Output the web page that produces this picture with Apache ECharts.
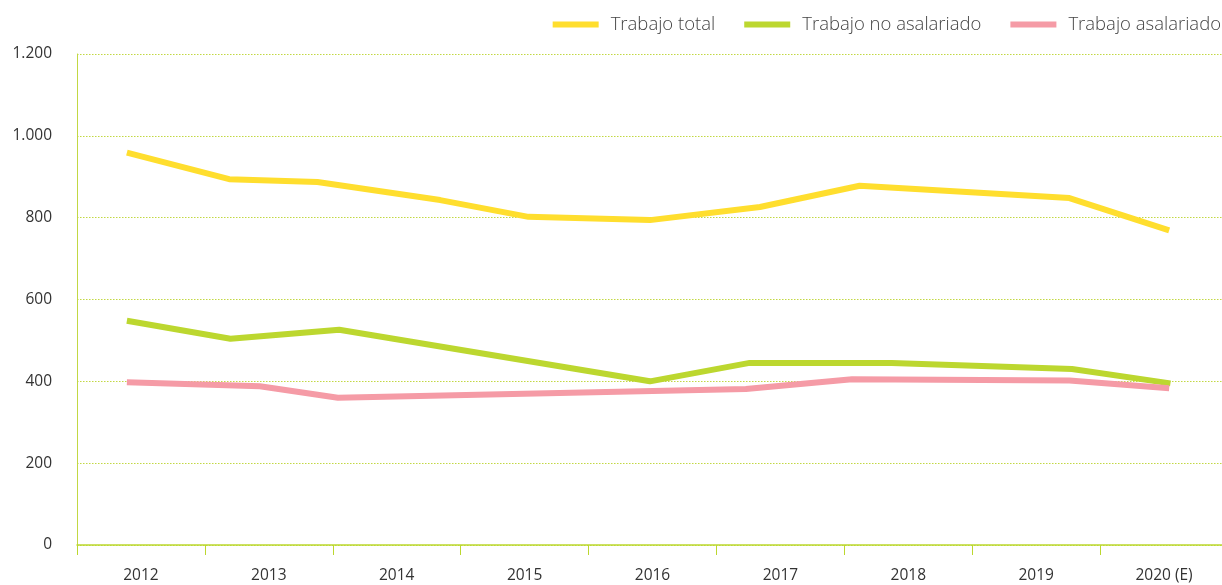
<!DOCTYPE html>
<html>
<head>
<meta charset="utf-8">
<script src="https://cdn.jsdelivr.net/npm/echarts@6/dist/echarts.min.js"></script>
<style>
  html, body { margin: 0; padding: 0; background: #fff; }
  #chart { width: 1222px; height: 585px; }
</style>
</head>
<body>
<div id="chart"></div>
<script>
// categories shown on the x axis
var years = ['2012', '2013', '2014', '2015', '2016', '2017', '2018', '2019', '2020 (E)'];

// vertices of each line, x as fractional year (as drawn in the source)
var totalX = [2011.89, 2012.69, 2013.38, 2014.34, 2015.03, 2015.98, 2016.84, 2017.62, 2019.26, 2020.04];
var totalY = [959, 894, 887, 843, 802, 794, 826, 878, 848, 769];

var noAsalX = [2011.89, 2012.70, 2013.55, 2015.98, 2016.76, 2017.87, 2019.28, 2020.05];
var noAsalY = [548, 504, 526, 400, 445, 445, 430, 395];

var asalX = [2011.89, 2012.93, 2013.54, 2016.73, 2017.56, 2019.26, 2020.04];
var asalY = [398, 388, 360, 381, 405, 402, 383];

var names = ['Trabajo total', 'Trabajo no asalariado', 'Trabajo asalariado'];
var colors = ['#ffde2e', '#bcd72f', '#f59ba6'];

function pairs(xs, ys) {
    return xs.map(function (x, i) { return [x, ys[i]]; });
}

var chart = echarts.init(document.getElementById('chart'));
var font = "'Open Sans', 'Noto Sans', sans-serif";
var lime = '#c2d843';

chart.setOption({
    animation: false,
    color: colors,
    textStyle: { fontFamily: font },
    legend: {
        right: -4,
        top: 10,
        icon: 'rect',
        itemWidth: 46,
        itemHeight: 6,
        itemGap: 29,
        textStyle: { fontSize: 18.5, color: '#444', fontWeight: 300, fontFamily: font, padding: [0, 0, 0, 7] },
        data: names
    },
    grid: { left: 77, right: -6, top: 54, bottom: 40, outerBoundsMode: 'none', containLabel: false },
    xAxis: [
        {
            type: 'category',
            data: years,
            boundaryGap: true,
            axisLine: { lineStyle: { color: '#bcd72f', width: 1.5 } },
            axisTick: { show: true, length: 10, lineStyle: { color: '#bcd72f' } },
            axisLabel: { color: '#333', fontSize: 15.5, margin: 23, fontFamily: font },
            splitLine: { show: false }
        },
        {
            type: 'value',
            min: 2011.5,
            max: 2020.5,
            show: false
        }
    ],
    yAxis: {
        type: 'value',
        min: 0,
        max: 1200,
        interval: 200,
        axisLine: { show: true, lineStyle: { color: lime, width: 1 } },
        axisTick: { show: false },
        axisLabel: {
            color: '#333',
            fontSize: 15.5,
            margin: 25,
            fontFamily: font,
            formatter: function (v) {
                return String(v).replace(/\B(?=(\d{3})+(?!\d))/g, '.');
            }
        },
        splitLine: { lineStyle: { color: lime, type: [1.5, 1.5], width: 1.2 } }
    },
    series: [
        { name: names[0], type: 'line', xAxisIndex: 1, data: pairs(totalX, totalY),
          showSymbol: false, lineStyle: { width: 6 } },
        { name: names[1], type: 'line', xAxisIndex: 1, data: pairs(noAsalX, noAsalY),
          showSymbol: false, lineStyle: { width: 6 } },
        { name: names[2], type: 'line', xAxisIndex: 1, data: pairs(asalX, asalY),
          showSymbol: false, lineStyle: { width: 6 } }
    ]
});
</script>
</body>
</html>
